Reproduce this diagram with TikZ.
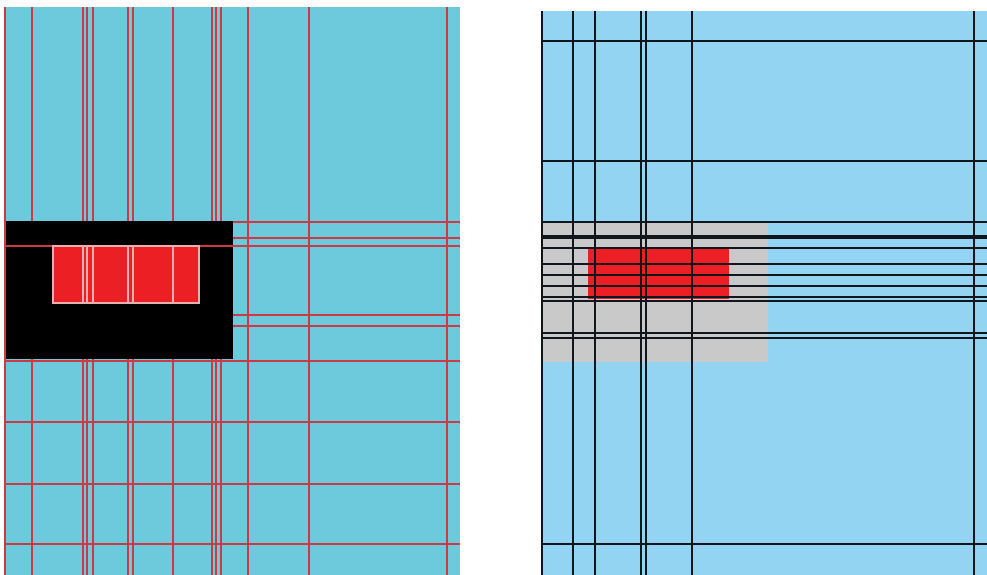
\documentclass[tikz,border=0pt]{standalone}
\usetikzlibrary{calc}
\definecolor{leftblue}{HTML}{6CCADC}
\definecolor{rightblue}{HTML}{92D4F1}
\definecolor{gridred}{HTML}{CC3A44}
\definecolor{gridblack}{HTML}{10161C}
\definecolor{chipred}{HTML}{EC1F25}
\definecolor{palepink}{HTML}{E8B0B0}
\definecolor{maskgray}{HTML}{C9C9C9}

\begin{document}
\begin{tikzpicture}[
      x=1pt, y=-1pt,
      redline/.style={draw=gridred, line width=2.7pt},
      blackline/.style={draw=gridblack, line width=2.7pt},
      paleline/.style={draw=palepink, line width=2pt}
    ]
      \useasboundingbox (0,0) rectangle (987,575);
      % left panel
      \fill[leftblue] (4,7) rectangle (460,575);
      \foreach \x in {5,32,83,87,93,128,133,173,212,216,221,248,309,447}
        \draw[redline] (\x,7) -- (\x,575);
      \foreach \y in {222,238,315,326,361,422,484,544}
        \draw[redline] (5,\y) -- (460,\y);
      \fill[black] (6,221) rectangle (233,359);
      \draw[redline] (5,246) -- (460,246);
      \fill[chipred] (53,246) rectangle (199,303);
      \foreach \x in {83,87,93,128,133,173}
        \draw[paleline] (\x,247) -- (\x,302);
      \draw[paleline] (53,246) rectangle (199,303);
      % right panel
      \fill[rightblue] (541,11) rectangle (987,575);
      \fill[maskgray] (542,222) rectangle (768,362);
      \fill[chipred] (588,248) rectangle (729,299);
      \foreach \x in {542,573,595,641,646,692,974}
        \draw[blackline] (\x,11) -- (\x,575);
      \foreach \y in {41,161,222,248,264,275,286,297,301,333,338,544}
        \draw[blackline] (542,\y) -- (987,\y);
      \draw[blackline, line width=4pt] (542,237) -- (987,237);
    \end{tikzpicture}
\end{document}
